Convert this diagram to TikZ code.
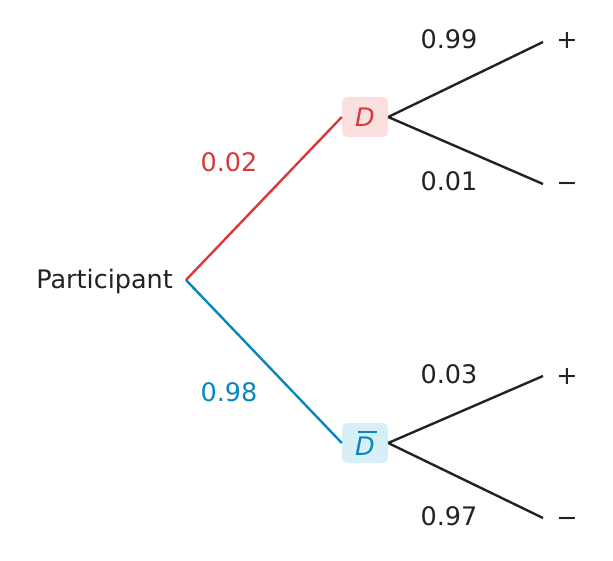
\documentclass[tikz,border=0pt]{standalone}
\usepackage{fontspec}
\setmainfont{DejaVu Sans}
\definecolor{cred}{HTML}{D63A3A}
\definecolor{cblue}{HTML}{0A86BF}
\definecolor{credbg}{HTML}{FCE0E0}
\definecolor{cbluebg}{HTML}{D7F0F7}
\definecolor{cdark}{HTML}{222222}
\tikzset{
  txt/.style={font=\fontsize{25.5}{30}\selectfont, text=cdark, inner sep=0pt, anchor=base},
  box/.style={rounded corners=5pt, minimum width=46pt, minimum height=40pt, inner sep=0pt, font=\fontsize{25.5}{30}\selectfont\itshape},
  edge/.style={line width=2.4pt, cdark},
}
\begin{document}
\begin{tikzpicture}[x=1pt,y=-1pt]
\useasboundingbox (0,0) rectangle (613,561);
\coordinate (root) at (186,280);
\node[txt, anchor=base east] (part) at (173,289) {Participant};
\node[box, fill=credbg, text=cred] (D) at (365,117) {D};
\node[box, fill=cbluebg, text=cblue] (Db) at (365,443) {\rlap{\kern2.5pt\raisebox{22pt}{\rule{19pt}{2.2pt}}}D};
\draw[line width=2.4pt, cred] (root) -- (D.west);
\draw[line width=2.4pt, cblue] (root) -- (Db.west);
\node[txt, text=cred] (p1) at (229,172) {0.02};
\node[txt, text=cblue] (p2) at (229,401) {0.98};
\coordinate (a1) at (543,42);
\coordinate (a2) at (543,184);
\coordinate (b1) at (543,376);
\coordinate (b2) at (543,518);
\draw[edge] (D.east) -- (a1);
\draw[edge] (D.east) -- (a2);
\draw[edge] (Db.east) -- (b1);
\draw[edge] (Db.east) -- (b2);
\node[txt] (q1) at (449,49) {0.99};
\node[txt] (q2) at (449,191) {0.01};
\node[txt] (q3) at (449,383) {0.03};
\node[txt] (q4) at (449,525) {0.97};
\node[txt] (l1) at (567,49) {+};
\node[txt] (l2) at (567,192) {−};
\node[txt] (l3) at (567,384) {+};
\node[txt] (l4) at (567,526) {−};
\end{tikzpicture}
\end{document}
